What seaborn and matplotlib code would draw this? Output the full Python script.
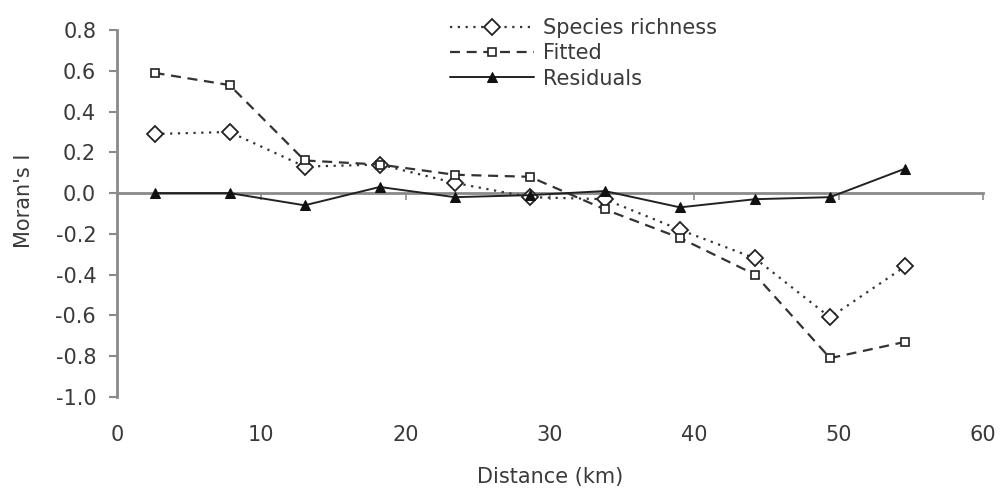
import matplotlib.pyplot as plt
import numpy as np
import pandas as pd
import seaborn as sns

distance = [2.6, 7.8, 13.0, 18.2, 23.4, 28.6, 33.8, 39.0, 44.2, 49.4, 54.6]
species_richness = [0.29, 0.30, 0.13, 0.14, 0.05, -0.02, -0.03, -0.18, -0.32, -0.61, -0.36]
fitted = [0.59, 0.53, 0.16, 0.14, 0.09, 0.08, -0.08, -0.22, -0.40, -0.81, -0.73]
residuals = [0.00, 0.00, -0.06, 0.03, -0.02, -0.01, 0.01, -0.07, -0.03, -0.02, 0.12]

x_ticks = [0, 10, 20, 30, 40, 50, 60]
y_ticks = [-1.0, -0.8, -0.6, -0.4, -0.2, 0.0, 0.2, 0.4, 0.6, 0.8]

sns.set_style("white")
plt.rcParams["font.family"] = ["DejaVu Sans"]

text_col = "#3a3a3a"
axis_col = "#8a8a8a"
fs = 15

fig = plt.figure(figsize=(10.02, 4.93), dpi=100)
ax = fig.add_axes([0.1168, 0.195, 0.8643, 0.744])

sns.lineplot(x=distance, y=species_richness, ax=ax, color="#333333",
             linestyle=(0, (1, 2.5)), linewidth=1.6, marker="D",
             markersize=8, markerfacecolor="white", markeredgecolor="#222222",
             markeredgewidth=1.3, label="Species richness")
sns.lineplot(x=distance, y=fitted, ax=ax, color="#333333",
             linestyle=(0, (4.5, 3)), linewidth=1.6, marker="s",
             markersize=6, markerfacecolor="white", markeredgecolor="#222222",
             markeredgewidth=1.2, label="Fitted")
sns.lineplot(x=distance, y=residuals, ax=ax, color="#222222",
             linestyle="-", linewidth=1.4, marker="^",
             markersize=7, markerfacecolor="#111111", markeredgecolor="#111111",
             label="Residuals")

ax.set_xlim(0, 60)
ax.set_ylim(-1.0, 0.8)
ax.set_yticks(y_ticks)
ax.set_yticklabels([f"{v:.1f}" for v in y_ticks])
ax.set_xticks(x_ticks)

for side in ["top", "right"]:
    ax.spines[side].set_visible(False)
ax.spines["left"].set_color(axis_col)
ax.spines["left"].set_linewidth(2)
ax.spines["bottom"].set_position(("data", 0))
ax.spines["bottom"].set_color(axis_col)
ax.spines["bottom"].set_linewidth(2)
ax.spines["bottom"].set_zorder(1)

ax.tick_params(axis="y", left=True, direction="out", length=6, width=1.5,
               color=axis_col, labelsize=fs, labelcolor=text_col, pad=9)
ax.tick_params(axis="x", bottom=True, direction="out", length=5, width=1.2,
               color=axis_col, labelbottom=False)

sec = ax.secondary_xaxis("bottom")
sec.set_xticks(x_ticks)
sec.spines["bottom"].set_visible(False)
sec.tick_params(bottom=False, length=0, labelsize=fs, labelcolor=text_col, pad=20)

ax.set_ylabel("Moran's I", fontsize=fs, color=text_col)
ax.yaxis.set_label_coords(-0.096, 0.535)
sec.set_xlabel("Distance (km)", fontsize=fs, color=text_col, labelpad=16)

leg = ax.legend(loc="upper left", bbox_to_anchor=(0.441, 0.98),
                bbox_transform=fig.transFigure, frameon=False, fontsize=fs,
                handlelength=4.0, handletextpad=0.45, labelspacing=0.25,
                borderaxespad=0)
for t in leg.get_texts():
    t.set_color(text_col)

fig.savefig("out.png", dpi=100)
